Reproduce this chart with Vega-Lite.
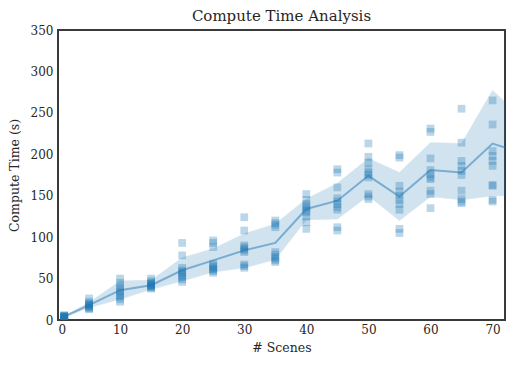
{
  "$schema": "https://vega.github.io/schema/vega-lite/v6.json",
  "width": 447,
  "height": 290,
  "autosize": {"type": "none"},
  "padding": {"left": 58, "top": 30, "right": 9, "bottom": 46},
  "title": {"text": "Compute Time Analysis", "fontSize": 15, "font": "DejaVu Serif", "fontWeight": "normal", "color": "#262626", "offset": 0},
  "config": {
    "font": "DejaVu Serif",
    "view": {"stroke": "#3a3a3a", "strokeWidth": 2},
    "axis": {"grid": false, "domain": false, "ticks": false, "labelFont": "DejaVu Serif", "titleFont": "DejaVu Serif", "labelFontSize": 12, "titleFontSize": 12.5, "titleFontWeight": "normal", "labelColor": "#262626", "titleColor": "#262626"}
  },
  "datasets": {
    "band": [
      {"scenes": 1, "mean": 4, "lo": 3, "hi": 5},
      {"scenes": 5, "mean": 18, "lo": 15, "hi": 21},
      {"scenes": 10, "mean": 36, "lo": 25, "hi": 47},
      {"scenes": 15, "mean": 42, "lo": 37, "hi": 48},
      {"scenes": 20, "mean": 60, "lo": 47, "hi": 75},
      {"scenes": 25, "mean": 72, "lo": 58, "hi": 86},
      {"scenes": 30, "mean": 84, "lo": 63, "hi": 104},
      {"scenes": 35, "mean": 93, "lo": 73, "hi": 116},
      {"scenes": 40, "mean": 134, "lo": 121, "hi": 146},
      {"scenes": 45, "mean": 144, "lo": 122, "hi": 165},
      {"scenes": 50, "mean": 174, "lo": 150, "hi": 195},
      {"scenes": 55, "mean": 149, "lo": 120, "hi": 178},
      {"scenes": 60, "mean": 181, "lo": 149, "hi": 214},
      {"scenes": 65, "mean": 178, "lo": 145, "hi": 213},
      {"scenes": 70, "mean": 213, "lo": 150, "hi": 277},
      {"scenes": 75, "mean": 201, "lo": 150, "hi": 242}
    ],
    "pts": [
      {"scenes": 1, "t": 2}, {"scenes": 1, "t": 3}, {"scenes": 1, "t": 3}, {"scenes": 1, "t": 4}, {"scenes": 1, "t": 4}, {"scenes": 1, "t": 4}, {"scenes": 1, "t": 5}, {"scenes": 1, "t": 5}, {"scenes": 1, "t": 6}, {"scenes": 1, "t": 3},
      {"scenes": 5, "t": 13}, {"scenes": 5, "t": 14}, {"scenes": 5, "t": 15}, {"scenes": 5, "t": 16}, {"scenes": 5, "t": 17}, {"scenes": 5, "t": 18}, {"scenes": 5, "t": 19}, {"scenes": 5, "t": 20}, {"scenes": 5, "t": 22}, {"scenes": 5, "t": 26},
      {"scenes": 10, "t": 22}, {"scenes": 10, "t": 25}, {"scenes": 10, "t": 28}, {"scenes": 10, "t": 30}, {"scenes": 10, "t": 33}, {"scenes": 10, "t": 35}, {"scenes": 10, "t": 38}, {"scenes": 10, "t": 41}, {"scenes": 10, "t": 45}, {"scenes": 10, "t": 50},
      {"scenes": 15, "t": 38}, {"scenes": 15, "t": 39}, {"scenes": 15, "t": 40}, {"scenes": 15, "t": 41}, {"scenes": 15, "t": 42}, {"scenes": 15, "t": 43}, {"scenes": 15, "t": 44}, {"scenes": 15, "t": 45}, {"scenes": 15, "t": 47}, {"scenes": 15, "t": 50},
      {"scenes": 20, "t": 46}, {"scenes": 20, "t": 49}, {"scenes": 20, "t": 52}, {"scenes": 20, "t": 54}, {"scenes": 20, "t": 56}, {"scenes": 20, "t": 58}, {"scenes": 20, "t": 60}, {"scenes": 20, "t": 63}, {"scenes": 20, "t": 78}, {"scenes": 20, "t": 93},
      {"scenes": 25, "t": 57}, {"scenes": 25, "t": 59}, {"scenes": 25, "t": 61}, {"scenes": 25, "t": 62}, {"scenes": 25, "t": 64}, {"scenes": 25, "t": 66}, {"scenes": 25, "t": 68}, {"scenes": 25, "t": 88}, {"scenes": 25, "t": 93}, {"scenes": 25, "t": 96},
      {"scenes": 30, "t": 63}, {"scenes": 30, "t": 65}, {"scenes": 30, "t": 67}, {"scenes": 30, "t": 82}, {"scenes": 30, "t": 84}, {"scenes": 30, "t": 86}, {"scenes": 30, "t": 88}, {"scenes": 30, "t": 90}, {"scenes": 30, "t": 108}, {"scenes": 30, "t": 124},
      {"scenes": 35, "t": 70}, {"scenes": 35, "t": 72}, {"scenes": 35, "t": 74}, {"scenes": 35, "t": 76}, {"scenes": 35, "t": 79}, {"scenes": 35, "t": 82}, {"scenes": 35, "t": 112}, {"scenes": 35, "t": 115}, {"scenes": 35, "t": 117}, {"scenes": 35, "t": 120},
      {"scenes": 40, "t": 110}, {"scenes": 40, "t": 118}, {"scenes": 40, "t": 125}, {"scenes": 40, "t": 130}, {"scenes": 40, "t": 132}, {"scenes": 40, "t": 135}, {"scenes": 40, "t": 137}, {"scenes": 40, "t": 140}, {"scenes": 40, "t": 145}, {"scenes": 40, "t": 152},
      {"scenes": 45, "t": 108}, {"scenes": 45, "t": 112}, {"scenes": 45, "t": 133}, {"scenes": 45, "t": 136}, {"scenes": 45, "t": 140}, {"scenes": 45, "t": 143}, {"scenes": 45, "t": 147}, {"scenes": 45, "t": 160}, {"scenes": 45, "t": 178}, {"scenes": 45, "t": 182},
      {"scenes": 50, "t": 146}, {"scenes": 50, "t": 149}, {"scenes": 50, "t": 152}, {"scenes": 50, "t": 172}, {"scenes": 50, "t": 175}, {"scenes": 50, "t": 178}, {"scenes": 50, "t": 182}, {"scenes": 50, "t": 190}, {"scenes": 50, "t": 197}, {"scenes": 50, "t": 213},
      {"scenes": 55, "t": 105}, {"scenes": 55, "t": 110}, {"scenes": 55, "t": 133}, {"scenes": 55, "t": 140}, {"scenes": 55, "t": 145}, {"scenes": 55, "t": 150}, {"scenes": 55, "t": 155}, {"scenes": 55, "t": 162}, {"scenes": 55, "t": 196}, {"scenes": 55, "t": 199},
      {"scenes": 60, "t": 135}, {"scenes": 60, "t": 152}, {"scenes": 60, "t": 156}, {"scenes": 60, "t": 170}, {"scenes": 60, "t": 172}, {"scenes": 60, "t": 176}, {"scenes": 60, "t": 181}, {"scenes": 60, "t": 195}, {"scenes": 60, "t": 227}, {"scenes": 60, "t": 231},
      {"scenes": 65, "t": 141}, {"scenes": 65, "t": 143}, {"scenes": 65, "t": 146}, {"scenes": 65, "t": 156}, {"scenes": 65, "t": 175}, {"scenes": 65, "t": 180}, {"scenes": 65, "t": 186}, {"scenes": 65, "t": 192}, {"scenes": 65, "t": 214}, {"scenes": 65, "t": 255},
      {"scenes": 70, "t": 143}, {"scenes": 70, "t": 145}, {"scenes": 70, "t": 162}, {"scenes": 70, "t": 163}, {"scenes": 70, "t": 186}, {"scenes": 70, "t": 192}, {"scenes": 70, "t": 198}, {"scenes": 70, "t": 204}, {"scenes": 70, "t": 236}, {"scenes": 70, "t": 265}
    ]
  },
  "encoding": {
    "x": {"field": "scenes", "type": "quantitative", "scale": {"domain": [0, 72], "nice": false, "zero": false},
          "axis": {"title": "# Scenes", "values": [0, 10, 20, 30, 40, 50, 60, 70], "labelPadding": 4, "titlePadding": 6}}
  },
  "layer": [
    {
      "data": {"name": "band"},
      "mark": {"type": "area", "clip": true, "color": "#1f77b4", "opacity": 0.2, "stroke": "#1f77b4", "strokeOpacity": 0.6, "strokeWidth": 1},
      "encoding": {
        "y": {"field": "lo", "type": "quantitative", "scale": {"domain": [0, 350], "nice": false},
              "axis": {"title": "Compute Time (s)", "values": [0, 50, 100, 150, 200, 250, 300, 350], "labelPadding": 5, "titlePadding": 9}},
        "y2": {"field": "hi"}
      }
    },
    {
      "data": {"name": "pts"},
      "mark": {"type": "point", "shape": "square", "filled": true, "size": 60, "color": "#1f77b4", "opacity": 0.3, "strokeWidth": 0, "clip": true},
      "encoding": {
        "y": {"field": "t", "type": "quantitative"}
      }
    },
    {
      "data": {"name": "band"},
      "mark": {"type": "line", "clip": true, "color": "#1f77b4", "opacity": 0.5, "strokeWidth": 2},
      "encoding": {
        "y": {"field": "mean", "type": "quantitative"}
      }
    }
  ]
}
